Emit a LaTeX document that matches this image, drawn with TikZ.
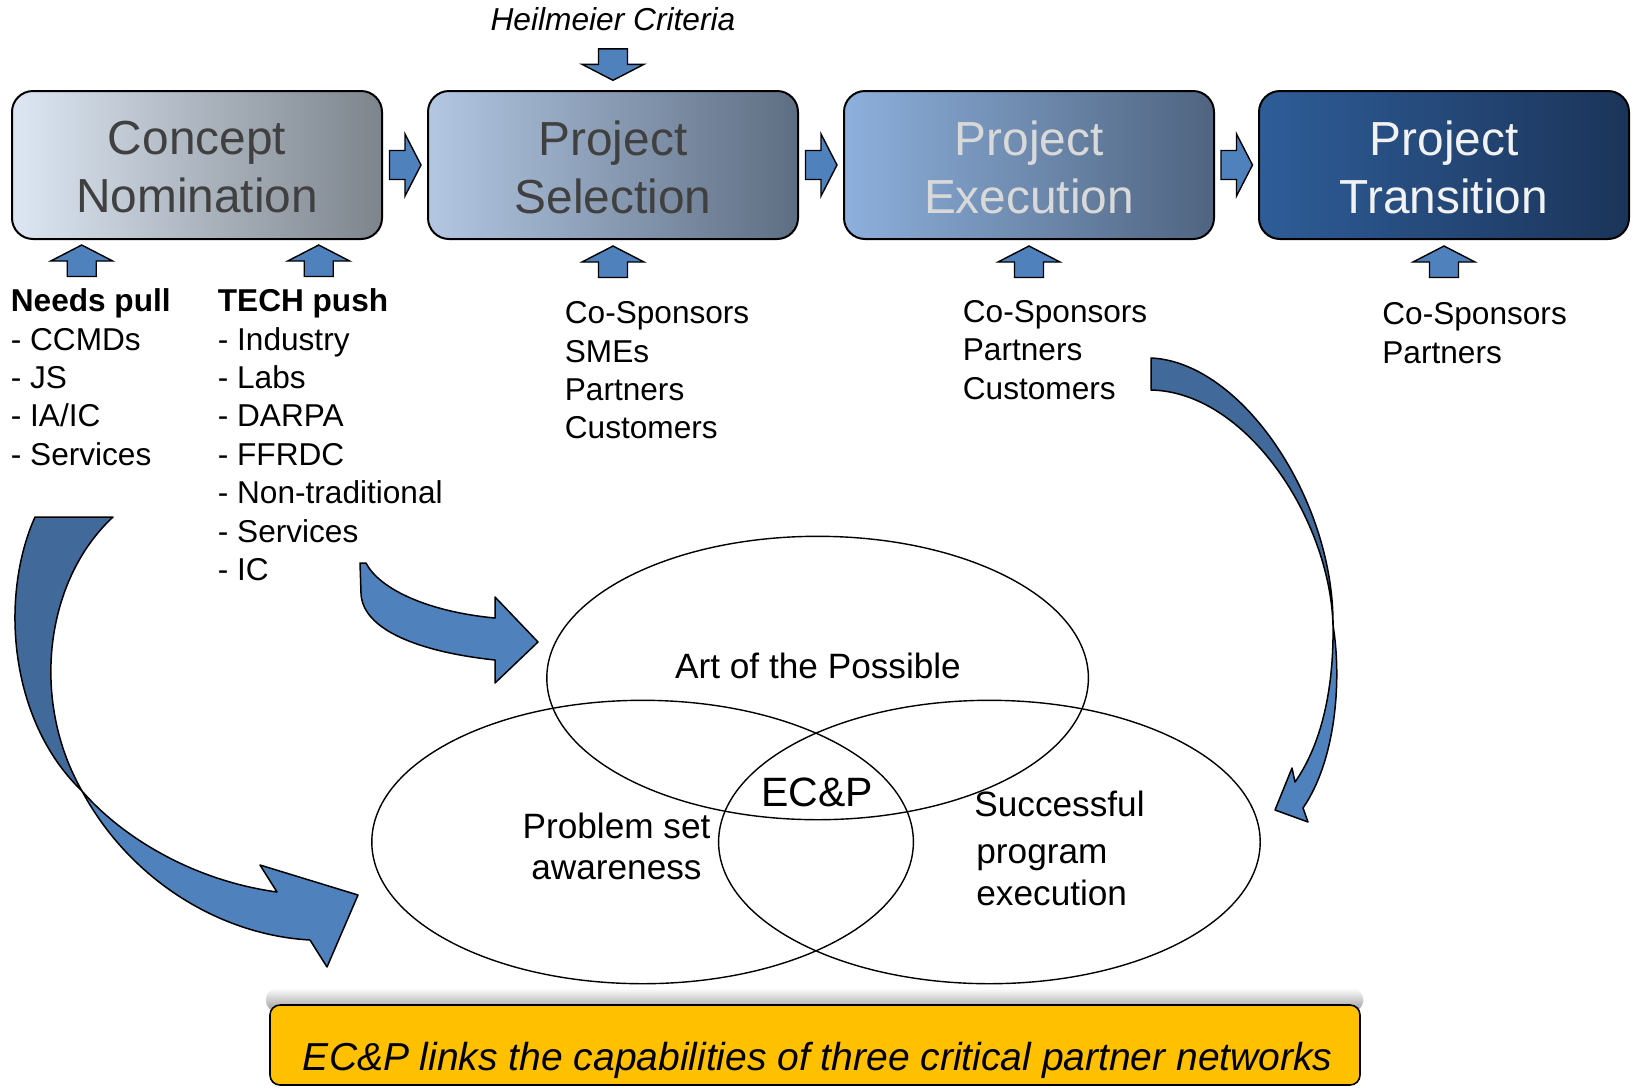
\documentclass[tikz,border=0pt]{standalone}
\usepackage{fontspec}
\setmainfont{Liberation Sans}
\usetikzlibrary{shapes.geometric,fadings,calc}
\definecolor{arrowblue}{HTML}{4F81BD}
\definecolor{ribbondark}{HTML}{41699A}
\definecolor{ecpyellow}{HTML}{FFC000}
\definecolor{txtdark}{HTML}{404040}
\definecolor{txtlight}{HTML}{D9D9D9}
\definecolor{txtwhite}{HTML}{F2F2F2}
\begin{document}
\begin{tikzpicture}[x=0.5pt,y=-0.5pt,
  stagebox/.style={draw=black, line width=1pt, rounded corners=10.5pt,
    minimum width=185pt, minimum height=74pt, inner sep=0pt},
  stagetext/.style={inner sep=0pt, align=center, font=\fontsize{23.9}{29}\selectfont},
  listline/.style={anchor=base west, inner sep=0pt, font=\fontsize{15.8}{19}\selectfont},
  venn/.style={ellipse, draw=black, line width=0.7pt, minimum width=270.8pt,
    minimum height=141.7pt, inner sep=0pt},
  venntext/.style={anchor=base, inner sep=0pt, font=\fontsize{17.6}{21}\selectfont},
  ribbon/.style={draw=black, line width=0.75pt, line join=round},
  blockarr/.pic={\filldraw[draw=black, line width=0.7pt, fill=arrowblue]
    (-15.5,-14.5) -- (0,-14.5) -- (0,-31) -- (16,0) -- (0,31) -- (0,14.5) -- (-15.5,14.5) -- cycle;}
]
\useasboundingbox (0,0) rectangle (1633,1088);
\fill[white] (0,0) rectangle (1633,1088);

% stage boxes
\node[stagebox, left color={rgb,255:red,221;green,231;blue,243}, right color={rgb,255:red,125;green,132;blue,140}] (b1) at (197,165) {};
\node[stagebox, left color={rgb,255:red,179;green,199;blue,227}, right color={rgb,255:red,94;green,110;blue,130}] (b2) at (613,165) {};
\node[stagebox, left color={rgb,255:red,141;green,176;blue,220}, right color={rgb,255:red,79;green,100;blue,128}] (b3) at (1029,165) {};
\node[stagebox, left color={rgb,255:red,46;green,93;blue,152}, right color={rgb,255:red,27;green,52;blue,89}] (b4) at (1444,165) {};
\node[stagetext, text=txtdark] (b1t) at ([yshift=-1pt]b1.center) {Concept\\Nomination};
\node[stagetext, text=txtdark] (b2t) at ([yshift=-1pt]b2.center) {Project\\Selection};
\node[stagetext, text=txtlight] (b3t) at ([yshift=-1pt]b3.center) {Project\\Execution};
\node[stagetext, text=txtwhite] (b4t) at ([yshift=-1pt]b4.center) {Project\\Transition};

% arrows between boxes
\path ($(b1.east)!0.5!(b2.west)$) pic {blockarr};
\path ($(b2.east)!0.5!(b3.west)$) pic {blockarr};
\path ($(b3.east)!0.5!(b4.west)$) pic {blockarr};

% Heilmeier
\node[anchor=base, inner sep=0pt, font=\fontsize{15.85}{19}\selectfont\itshape] (heil) at (613,30) {Heilmeier Criteria};
\path ([yshift=12.85pt]b2.north) pic[rotate=-90] {blockarr};

% up arrows
\path (81.7,261) pic[rotate=90] {blockarr};
\path (318.7,261) pic[rotate=90] {blockarr};
\path ([yshift=-11pt]b2.south) pic[rotate=90] {blockarr};
\path ([yshift=-11pt]b3.south) pic[rotate=90] {blockarr};
\path ([yshift=-11pt]b4.south) pic[rotate=90] {blockarr};

% lists
\node[listline, font=\fontsize{15.8}{19}\selectfont\bfseries] (needs) at (10.5,311.7) {Needs pull};
\foreach \t [count=\i] in {- CCMDs, - JS, - IA/IC, - Services}
  \node[listline] (np\i) at (10.5,{311.7+38.4*\i}) {\t};
\node[listline, font=\fontsize{15.8}{19}\selectfont\bfseries] (tech) at (217.5,311.7) {TECH push};
\foreach \t [count=\i] in {- Industry, - Labs, - DARPA, - FFRDC, - Non-traditional, - Services, - IC}
  \node[listline] (tp\i) at (217.5,{311.7+38.4*\i}) {\t};
\foreach \t [count=\i from 0] in {Co-Sponsors, SMEs, Partners, Customers}
  \node[listline] (sa\i) at (564.5,{323.7+38.3*\i}) {\t};
\foreach \t [count=\i from 0] in {Co-Sponsors, Partners, Customers}
  \node[listline] (sb\i) at (962.5,{322.6+38.3*\i}) {\t};
\foreach \t [count=\i from 0] in {Co-Sponsors, Partners}
  \node[listline] (sc\i) at (1382,{324.7+38.3*\i}) {\t};

% venn
\node[venn] (art) at (817.6,678) {};
\node[venn] (prob) at (642.6,842) {};
\node[venn] (succ) at (989.4,842) {};
\node[venntext] (artt) at (818,678) {Art of the Possible};
\node[venntext, font=\fontsize{20.5}{24}\selectfont] (ecp) at (817,806.7) {EC\&P};
\node[venntext] (prob1) at (616.5,838.6) {Problem set};
\node[venntext] (prob2) at (616.5,879) {awareness};
\node[venntext, anchor=base west] (succ1) at (974,816) {Successful};
\node[venntext, anchor=base west] (succ2) at (976,863.7) {program};
\node[venntext, anchor=base west] (succ3) at (976,905) {execution};

% curved ribbon arrows
\filldraw[ribbon, fill=ribbondark] (35,517) -- (113,517) .. controls (45,580) and (30,700) .. (82,791) .. controls (8,720) and (0,595) .. (35,517) -- cycle;
\filldraw[ribbon, fill=arrowblue] (82,791) .. controls (120,835) and (190,880) .. (277,892) -- (260,865) -- (358,895) -- (327,967) -- (310,940) .. controls (220,935) and (130,880) .. (82,791) -- cycle;

\filldraw[ribbon, fill=arrowblue] (360,563) -- (366,563) .. controls (380,590) and (430,612) .. (495,618) -- (495,597) -- (538,642) -- (495,683) -- (495,660) .. controls (420,652) and (362,630) .. (361,593) -- cycle;

\filldraw[ribbon, fill=ribbondark] (1151,358) .. controls (1242,362) and (1334,500) .. (1333,625) .. controls (1330,520) and (1247,392) .. (1151,390) -- cycle;
\filldraw[ribbon, fill=arrowblue] (1333,625) .. controls (1342,680) and (1336,760) .. (1303,808) -- (1308,822) -- (1275,810) -- (1292,768) -- (1295,782) .. controls (1321,745) and (1334,690) .. (1333,625) -- cycle;

% bottom bar
\fill[black!40, path fading=north, rounded corners=6pt] (266,1012) rectangle (1364,988);
\node[draw=black, line width=0.8pt, fill=ecpyellow, rounded corners=5pt, minimum width=545pt, minimum height=40pt, inner sep=0pt] (bar) at (815,1045) {};
\node[anchor=base, inner sep=0pt, font=\fontsize{19.5}{23}\selectfont\itshape] (bartext) at (817.8,1070) {EC\&P links the capabilities of three critical partner networks};
\end{tikzpicture}
\end{document}
